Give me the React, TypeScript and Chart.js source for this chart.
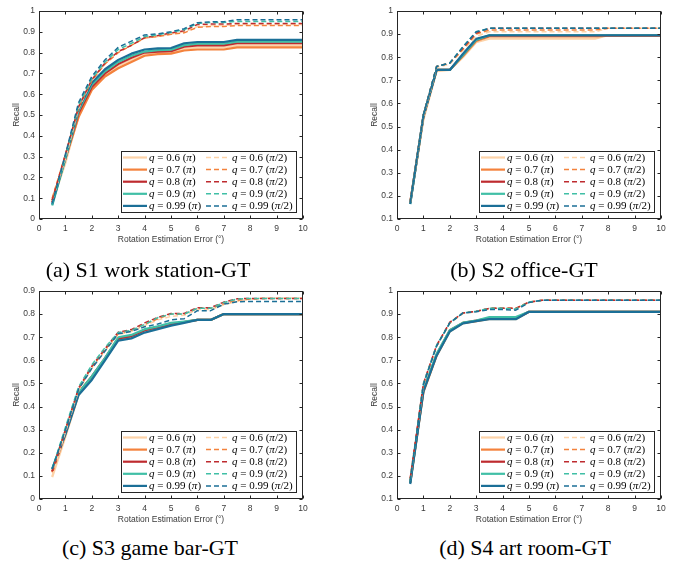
import React, { useEffect, useRef } from "react";
import { Chart, registerables } from "chart.js";

Chart.register(...registerables);

// ---------- data ----------
const XS = [0.5, 1, 1.5, 2, 2.5, 3, 3.5, 4, 4.5, 5, 5.5, 6, 6.5, 7, 7.5, 8, 8.5, 9, 9.5, 10];
const X_RANGE = [0, 10];
const Q_LABELS = ["0.6", "0.7", "0.8", "0.9", "0.99"];
const COLORS = ["#FDD3A8", "#F4823C", "#BE2B2F", "#40BFA6", "#1B6F97"];
const X_TITLE = "Rotation Estimation Error (\u00B0)";
const Y_TITLE = "Recall";
const CAPTIONS = ["(a) S1 work station-GT", "(b) S2 office-GT", "(c) S3 game bar-GT", "(d) S4 art room-GT"];

// S1 work station
const S1_Y_RANGE = [0, 1];
const S1_PI_Q06 = [0.08, 0.27, 0.5, 0.625, 0.69, 0.735, 0.765, 0.79, 0.798, 0.8, 0.818, 0.825, 0.825, 0.825, 0.835, 0.835, 0.835, 0.835, 0.835, 0.835];
const S1_PI_Q07 = [0.09, 0.29, 0.49, 0.62, 0.685, 0.725, 0.755, 0.785, 0.793, 0.795, 0.81, 0.815, 0.815, 0.815, 0.825, 0.825, 0.825, 0.825, 0.825, 0.825];
const S1_PI_Q08 = [0.08, 0.29, 0.51, 0.635, 0.7, 0.745, 0.775, 0.8, 0.805, 0.807, 0.828, 0.835, 0.835, 0.835, 0.845, 0.845, 0.845, 0.845, 0.845, 0.845];
const S1_PI_Q09 = [0.065, 0.29, 0.52, 0.645, 0.71, 0.755, 0.785, 0.805, 0.812, 0.814, 0.836, 0.843, 0.843, 0.843, 0.853, 0.853, 0.853, 0.853, 0.853, 0.853];
const S1_PI_Q099 = [0.07, 0.3, 0.53, 0.655, 0.72, 0.765, 0.795, 0.815, 0.82, 0.822, 0.845, 0.851, 0.851, 0.851, 0.861, 0.861, 0.861, 0.861, 0.861, 0.861];
const S1_HALF_Q06 = [0.085, 0.29, 0.53, 0.665, 0.745, 0.805, 0.835, 0.87, 0.877, 0.89, 0.9, 0.925, 0.93, 0.93, 0.935, 0.935, 0.935, 0.935, 0.935, 0.935];
const S1_HALF_Q07 = [0.1, 0.31, 0.535, 0.665, 0.745, 0.8, 0.835, 0.87, 0.877, 0.888, 0.895, 0.922, 0.925, 0.925, 0.93, 0.93, 0.93, 0.93, 0.93, 0.93];
const S1_HALF_Q08 = [0.09, 0.31, 0.54, 0.67, 0.75, 0.805, 0.835, 0.872, 0.882, 0.895, 0.905, 0.935, 0.937, 0.937, 0.94, 0.94, 0.94, 0.94, 0.94, 0.94];
const S1_HALF_Q09 = [0.07, 0.3, 0.55, 0.675, 0.755, 0.815, 0.845, 0.877, 0.886, 0.897, 0.91, 0.94, 0.945, 0.945, 0.95, 0.95, 0.95, 0.95, 0.95, 0.95];
const S1_HALF_Q099 = [0.075, 0.31, 0.56, 0.685, 0.765, 0.825, 0.855, 0.885, 0.89, 0.9, 0.915, 0.944, 0.948, 0.948, 0.958, 0.958, 0.958, 0.958, 0.958, 0.958];

// S2 office
const S2_Y_RANGE = [0.1, 1];
const S2_PI_Q06 = [0.17, 0.53, 0.74, 0.745, 0.8, 0.865, 0.88, 0.88, 0.88, 0.88, 0.88, 0.88, 0.88, 0.88, 0.88, 0.895, 0.895, 0.895, 0.895, 0.895];
const S2_PI_Q07 = [0.17, 0.54, 0.745, 0.745, 0.805, 0.87, 0.89, 0.89, 0.89, 0.89, 0.89, 0.89, 0.89, 0.89, 0.89, 0.893, 0.893, 0.893, 0.893, 0.893];
const S2_PI_Q08 = [0.17, 0.545, 0.745, 0.745, 0.81, 0.875, 0.893, 0.893, 0.893, 0.893, 0.893, 0.893, 0.893, 0.893, 0.893, 0.893, 0.893, 0.893, 0.893, 0.893];
const S2_PI_Q09 = [0.165, 0.545, 0.745, 0.745, 0.81, 0.875, 0.895, 0.895, 0.895, 0.895, 0.895, 0.895, 0.895, 0.895, 0.895, 0.895, 0.895, 0.895, 0.895, 0.895];
const S2_PI_Q099 = [0.165, 0.545, 0.745, 0.745, 0.815, 0.88, 0.895, 0.895, 0.895, 0.895, 0.895, 0.895, 0.895, 0.895, 0.895, 0.895, 0.895, 0.895, 0.895, 0.895];
const S2_HALF_Q06 = [0.17, 0.54, 0.755, 0.77, 0.83, 0.89, 0.91, 0.91, 0.91, 0.91, 0.91, 0.91, 0.91, 0.91, 0.91, 0.925, 0.925, 0.925, 0.925, 0.925];
const S2_HALF_Q07 = [0.17, 0.55, 0.76, 0.775, 0.835, 0.9, 0.918, 0.918, 0.918, 0.918, 0.918, 0.918, 0.918, 0.918, 0.918, 0.925, 0.925, 0.925, 0.925, 0.925];
const S2_HALF_Q08 = [0.17, 0.55, 0.76, 0.775, 0.84, 0.905, 0.925, 0.925, 0.925, 0.925, 0.925, 0.925, 0.925, 0.925, 0.925, 0.925, 0.925, 0.925, 0.925, 0.925];
const S2_HALF_Q09 = [0.17, 0.55, 0.76, 0.775, 0.845, 0.91, 0.925, 0.925, 0.925, 0.925, 0.925, 0.925, 0.925, 0.925, 0.925, 0.925, 0.925, 0.925, 0.925, 0.925];
const S2_HALF_Q099 = [0.17, 0.55, 0.76, 0.775, 0.845, 0.91, 0.925, 0.925, 0.925, 0.925, 0.925, 0.925, 0.925, 0.925, 0.925, 0.925, 0.925, 0.925, 0.925, 0.925];

// S3 game bar
const S3_Y_RANGE = [0, 0.9];
const S3_PI_Q06 = [0.095, 0.27, 0.45, 0.525, 0.605, 0.69, 0.7, 0.73, 0.74, 0.755, 0.765, 0.775, 0.775, 0.8, 0.8, 0.8, 0.8, 0.8, 0.8, 0.8];
const S3_PI_Q07 = [0.115, 0.28, 0.455, 0.525, 0.605, 0.69, 0.705, 0.73, 0.74, 0.755, 0.765, 0.775, 0.775, 0.8, 0.8, 0.8, 0.8, 0.8, 0.8, 0.8];
const S3_PI_Q08 = [0.12, 0.29, 0.46, 0.53, 0.61, 0.695, 0.705, 0.73, 0.745, 0.757, 0.766, 0.775, 0.775, 0.8, 0.8, 0.8, 0.8, 0.8, 0.8, 0.8];
const S3_PI_Q09 = [0.13, 0.29, 0.46, 0.53, 0.61, 0.7, 0.71, 0.735, 0.747, 0.762, 0.768, 0.775, 0.775, 0.8, 0.8, 0.8, 0.8, 0.8, 0.8, 0.8];
const S3_PI_Q099 = [0.13, 0.28, 0.45, 0.515, 0.6, 0.685, 0.695, 0.72, 0.735, 0.75, 0.762, 0.775, 0.775, 0.8, 0.8, 0.8, 0.8, 0.8, 0.8, 0.8];
const S3_HALF_Q06 = [0.1, 0.29, 0.47, 0.565, 0.64, 0.71, 0.725, 0.75, 0.775, 0.79, 0.795, 0.82, 0.82, 0.84, 0.855, 0.865, 0.87, 0.87, 0.87, 0.87];
const S3_HALF_Q07 = [0.12, 0.3, 0.475, 0.57, 0.645, 0.715, 0.73, 0.755, 0.78, 0.8, 0.8, 0.825, 0.825, 0.845, 0.86, 0.865, 0.868, 0.868, 0.868, 0.868];
const S3_HALF_Q08 = [0.12, 0.3, 0.48, 0.575, 0.65, 0.722, 0.733, 0.762, 0.786, 0.803, 0.803, 0.828, 0.828, 0.852, 0.866, 0.868, 0.868, 0.868, 0.868, 0.868];
const S3_HALF_Q09 = [0.13, 0.31, 0.485, 0.58, 0.655, 0.72, 0.73, 0.755, 0.785, 0.8, 0.8, 0.825, 0.825, 0.85, 0.865, 0.868, 0.868, 0.868, 0.868, 0.868];
const S3_HALF_Q099 = [0.13, 0.3, 0.475, 0.565, 0.64, 0.715, 0.725, 0.745, 0.757, 0.775, 0.78, 0.815, 0.815, 0.843, 0.853, 0.855, 0.855, 0.855, 0.855, 0.855];

// S4 art room
const S4_Y_RANGE = [0.1, 1];
const S4_PI_Q06 = [0.17, 0.56, 0.72, 0.825, 0.86, 0.87, 0.878, 0.878, 0.878, 0.91, 0.91, 0.91, 0.91, 0.91, 0.91, 0.91, 0.91, 0.91, 0.91, 0.91];
const S4_PI_Q07 = [0.17, 0.565, 0.72, 0.827, 0.862, 0.87, 0.88, 0.88, 0.88, 0.91, 0.91, 0.91, 0.91, 0.91, 0.91, 0.91, 0.91, 0.91, 0.91, 0.91];
const S4_PI_Q08 = [0.17, 0.57, 0.725, 0.83, 0.862, 0.872, 0.882, 0.882, 0.882, 0.91, 0.91, 0.91, 0.91, 0.91, 0.91, 0.91, 0.91, 0.91, 0.91, 0.91];
const S4_PI_Q09 = [0.17, 0.575, 0.728, 0.83, 0.863, 0.872, 0.887, 0.887, 0.887, 0.91, 0.91, 0.91, 0.91, 0.91, 0.91, 0.91, 0.91, 0.91, 0.91, 0.91];
const S4_PI_Q099 = [0.165, 0.565, 0.72, 0.825, 0.86, 0.87, 0.878, 0.878, 0.878, 0.91, 0.91, 0.91, 0.91, 0.91, 0.91, 0.91, 0.91, 0.91, 0.91, 0.91];
const S4_HALF_Q06 = [0.185, 0.59, 0.76, 0.86, 0.903, 0.91, 0.925, 0.925, 0.925, 0.95, 0.96, 0.96, 0.96, 0.96, 0.96, 0.96, 0.96, 0.96, 0.96, 0.96];
const S4_HALF_Q07 = [0.185, 0.595, 0.762, 0.862, 0.905, 0.912, 0.925, 0.925, 0.925, 0.952, 0.96, 0.96, 0.96, 0.96, 0.96, 0.96, 0.96, 0.96, 0.96, 0.96];
const S4_HALF_Q08 = [0.19, 0.6, 0.765, 0.865, 0.905, 0.912, 0.925, 0.925, 0.925, 0.952, 0.96, 0.96, 0.96, 0.96, 0.96, 0.96, 0.96, 0.96, 0.96, 0.96];
const S4_HALF_Q09 = [0.18, 0.6, 0.765, 0.862, 0.905, 0.912, 0.925, 0.925, 0.922, 0.952, 0.96, 0.96, 0.96, 0.96, 0.96, 0.96, 0.96, 0.96, 0.96, 0.96];
const S4_HALF_Q099 = [0.18, 0.595, 0.762, 0.862, 0.905, 0.91, 0.92, 0.92, 0.917, 0.95, 0.96, 0.96, 0.96, 0.96, 0.96, 0.96, 0.96, 0.96, 0.96, 0.96];

const S1_SOLID = [S1_PI_Q06, S1_PI_Q07, S1_PI_Q08, S1_PI_Q09, S1_PI_Q099];
const S1_DASHED = [S1_HALF_Q06, S1_HALF_Q07, S1_HALF_Q08, S1_HALF_Q09, S1_HALF_Q099];
const S2_SOLID = [S2_PI_Q06, S2_PI_Q07, S2_PI_Q08, S2_PI_Q09, S2_PI_Q099];
const S2_DASHED = [S2_HALF_Q06, S2_HALF_Q07, S2_HALF_Q08, S2_HALF_Q09, S2_HALF_Q099];
const S3_SOLID = [S3_PI_Q06, S3_PI_Q07, S3_PI_Q08, S3_PI_Q09, S3_PI_Q099];
const S3_DASHED = [S3_HALF_Q06, S3_HALF_Q07, S3_HALF_Q08, S3_HALF_Q09, S3_HALF_Q099];
const S4_SOLID = [S4_PI_Q06, S4_PI_Q07, S4_PI_Q08, S4_PI_Q09, S4_PI_Q099];
const S4_DASHED = [S4_HALF_Q06, S4_HALF_Q07, S4_HALF_Q08, S4_HALF_Q09, S4_HALF_Q099];

// ---------- styles ----------
const AXIS_COLOR = "#262626";
const TICK_COLOR = "#3a3a3a";
const SANS = "'Liberation Sans', Arial, Helvetica, sans-serif";
const SERIF = "'Liberation Serif', 'Times New Roman', serif";
const CANVAS_W = 330;
const CANVAS_H = 250;

const boxPlugin = {
  id: "matlabBox",
  afterDatasetsDraw(chart: any) {
    const { ctx, chartArea: a, scales } = chart;
    ctx.save();
    ctx.strokeStyle = AXIS_COLOR;
    ctx.lineWidth = 1;
    ctx.setLineDash([]);
    const L = Math.round(a.left) + 0.5;
    const R = Math.round(a.right) - 0.5;
    const T = Math.round(a.top) + 0.5;
    const B = Math.round(a.bottom) - 0.5;
    ctx.strokeRect(L, T, R - L, B - T);
    const tl = 3;
    ctx.beginPath();
    scales.x.ticks.forEach((t: any) => {
      const px = Math.round(scales.x.getPixelForValue(t.value)) + 0.5;
      ctx.moveTo(px, B);
      ctx.lineTo(px, B - tl);
      ctx.moveTo(px, T);
      ctx.lineTo(px, T + tl);
    });
    scales.y.ticks.forEach((t: any) => {
      const py = Math.round(scales.y.getPixelForValue(t.value)) + 0.5;
      ctx.moveTo(L, py);
      ctx.lineTo(L + tl, py);
      ctx.moveTo(R, py);
      ctx.lineTo(R - tl, py);
    });
    ctx.stroke();
    ctx.restore();
  },
};

const legendPlugin = {
  id: "qLegend",
  afterDraw(chart: any) {
    const { ctx, chartArea: a } = chart;
    const W = 175;
    const H = 61;
    const x0 = Math.round(a.right - 7 - W);
    const y0 = Math.round(a.bottom - 7 - H);
    ctx.save();
    ctx.fillStyle = "#ffffff";
    ctx.fillRect(x0, y0, W, H);
    ctx.strokeStyle = AXIS_COLOR;
    ctx.lineWidth = 1;
    ctx.setLineDash([]);
    ctx.strokeRect(x0 + 0.5, y0 + 0.5, W, H);
    chart.data.datasets.forEach((d: any) => {
      const lx = x0 + (d.half ? 85 : 2);
      const cy = y0 + 6.5 + d.row * 12.1;
      ctx.strokeStyle = d.borderColor;
      ctx.lineWidth = d.borderWidth;
      ctx.setLineDash(d.borderDash || []);
      ctx.beginPath();
      ctx.moveTo(lx, cy);
      ctx.lineTo(lx + 24, cy);
      ctx.stroke();
      ctx.setLineDash([]);
      const parts: [string, boolean][] = [
        ["q", true],
        [" = " + d.qLabel + " (", false],
        ["\u03C0", true],
        [d.half ? "/2)" : ")", false],
      ];
      let tx = lx + 26;
      ctx.fillStyle = "#000";
      ctx.textBaseline = "middle";
      ctx.textAlign = "left";
      parts.forEach(([s, it]) => {
        ctx.font = (it ? "italic " : "") + "11px " + SERIF;
        ctx.fillText(s, tx, cy + 0.5);
        tx += ctx.measureText(s).width;
      });
    });
    ctx.restore();
  },
};

function fmtY(v: any) {
  return String(Math.round(Number(v) * 10) / 10);
}

type PanelProps = {
  left: number;
  top: number;
  yRange: number[];
  solid: number[][];
  dashed: number[][];
};

function Panel({ left, top, yRange, solid, dashed }: PanelProps) {
  const ref = useRef<HTMLCanvasElement | null>(null);
  useEffect(() => {
    if (!ref.current) return;
    const datasets: any[] = [];
    solid.forEach((arr, i) => {
      datasets.push({
        label: "q = " + Q_LABELS[i] + " (\u03C0)",
        qLabel: Q_LABELS[i],
        half: false,
        row: i,
        data: XS.map((x, j) => ({ x, y: arr[j] })),
        borderColor: COLORS[i],
        backgroundColor: COLORS[i],
        borderWidth: 2.2,
        pointRadius: 0,
        tension: 0,
        fill: false,
      });
    });
    dashed.forEach((arr, i) => {
      datasets.push({
        label: "q = " + Q_LABELS[i] + " (\u03C0/2)",
        qLabel: Q_LABELS[i],
        half: true,
        row: i,
        data: XS.map((x, j) => ({ x, y: arr[j] })),
        borderColor: COLORS[i],
        backgroundColor: COLORS[i],
        borderWidth: 1.5,
        borderDash: [5, 3],
        pointRadius: 0,
        tension: 0,
        fill: false,
      });
    });
    datasets.forEach((d, i) => (d.order = 100 - i));

    const tickFont = { family: SANS, size: 8.5 };
    const titleFont = { family: SANS, size: 8.5 };
    const chart = new Chart(ref.current, {
      type: "line",
      data: { datasets },
      options: {
        animation: false,
        responsive: false,
        devicePixelRatio: 1,
        events: [],
        layout: { padding: { top: 11, right: CANVAS_W - 303, left: 0, bottom: 0 } },
        plugins: { legend: { display: false }, tooltip: { enabled: false } },
        elements: { line: { borderCapStyle: "butt", borderJoinStyle: "round" } },
        scales: {
          x: {
            type: "linear",
            min: X_RANGE[0],
            max: X_RANGE[1],
            grid: { display: false, drawTicks: false },
            border: { display: false },
            ticks: { stepSize: 1, autoSkip: false, maxRotation: 0, padding: 5, color: TICK_COLOR, font: tickFont },
            title: { display: true, text: X_TITLE, color: TICK_COLOR, font: titleFont, padding: { top: 0, bottom: 5 } },
            afterFit: (s: any) => {
              s.height = 31;
            },
          },
          y: {
            type: "linear",
            min: yRange[0],
            max: yRange[1],
            grid: { display: false, drawTicks: false },
            border: { display: false },
            ticks: { stepSize: 0.1, autoSkip: false, padding: 4, color: TICK_COLOR, font: tickFont, callback: (v: any) => fmtY(v) },
            title: { display: true, text: Y_TITLE, color: TICK_COLOR, font: titleFont, padding: { top: 11.5, bottom: 0 } },
            afterFit: (s: any) => {
              s.width = 39;
            },
          },
        },
      } as any,
      plugins: [boxPlugin, legendPlugin],
    });
    return () => chart.destroy();
  }, []);
  return (
    <div style={{ position: "absolute", left, top, width: CANVAS_W, height: CANVAS_H }}>
      <canvas ref={ref} width={CANVAS_W} height={CANVAS_H} style={{ width: CANVAS_W, height: CANVAS_H, display: "block" }} />
    </div>
  );
}

function Caption({ text, cx, cy }: { text: string; cx: number; cy: number }) {
  return (
    <div
      style={{
        position: "absolute",
        left: cx - 170,
        top: cy - 13,
        width: 340,
        height: 26,
        lineHeight: "26px",
        textAlign: "center",
        fontFamily: SERIF,
        fontSize: 22,
        color: "#000",
        whiteSpace: "nowrap",
      }}
    >
      {text}
    </div>
  );
}

export default function App() {
  return (
    <div style={{ position: "fixed", left: 0, top: 0, width: 689, height: 563, background: "#fff", overflow: "hidden" }}>
      <Panel left={0} top={0} yRange={S1_Y_RANGE} solid={S1_SOLID} dashed={S1_DASHED} />
      <Panel left={358} top={0} yRange={S2_Y_RANGE} solid={S2_SOLID} dashed={S2_DASHED} />
      <Panel left={0} top={280} yRange={S3_Y_RANGE} solid={S3_SOLID} dashed={S3_DASHED} />
      <Panel left={358} top={280} yRange={S4_Y_RANGE} solid={S4_SOLID} dashed={S4_DASHED} />
      <Caption text={CAPTIONS[0]} cx={148} cy={270} />
      <Caption text={CAPTIONS[1]} cx={524} cy={270} />
      <Caption text={CAPTIONS[2]} cx={150} cy={548} />
      <Caption text={CAPTIONS[3]} cx={525} cy={548} />
    </div>
  );
}
